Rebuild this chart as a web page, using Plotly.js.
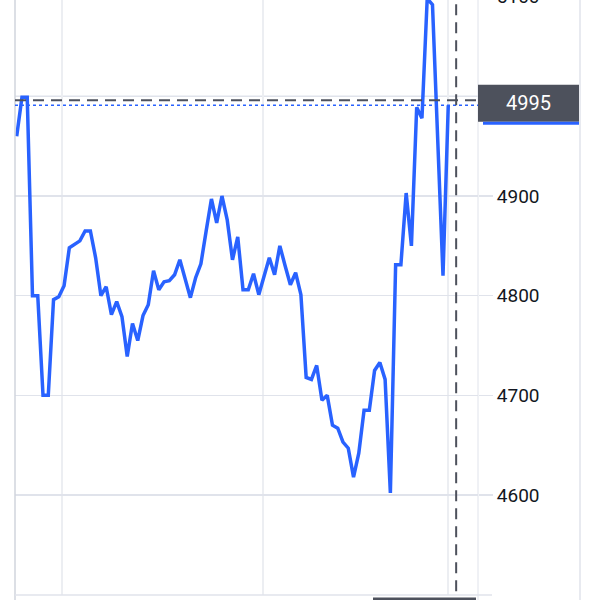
<!DOCTYPE html>
<html>
<head>
<meta charset="utf-8">
<script src="https://cdn.plot.ly/plotly-3.0.1.min.js"></script>
<style>
  html, body { margin: 0; padding: 0; background: #ffffff; overflow: hidden; }
  #wrap { position: absolute; left: 0; top: -50px; width: 600px; height: 700px; }
</style>
</head>
<body>
<div id="wrap"></div>
<script>
// ---- data ----
const barIndex = [0,1,2,3,4,5,6,7,8,9,10,11,12,13,14,15,16,17,18,19,20,
  21,22,23,24,25,26,27,28,29,30,31,32,33,34,35,36,37,38,39,40,
  41,42,43,44,45,46,47,48,49,50,51,52,53,54,55,56,57,58,59,60,
  61,62,63,64,65,66,67,68,69,70,71,72,73,74,75,76,77,78,79,80,81,82];
const price = [4960,4999,4999,4800,4800,4700,4700,4796,4799,4810,4848,
  4851,4855,4865,4865,4838,4800,4809,4781,4794,4779,
  4739,4772,4755,4780,4791,4825,4806,4814,4815,4821,
  4836,4816,4798,4818,4832,4865,4897,4873,4900,4876,
  4836,4859,4806,4806,4822,4801,4820,4838,4821,4850,
  4830,4811,4823,4801,4718,4716,4730,4695,4700,4670,
  4667,4653,4647,4618,4642,4685,4685,4725,4733,4716,
  4602,4831,4831,4903,4850,4989,4978,5098,5092,4960,4820,4991];
const yTickVals = [4600, 4700, 4800, 4900, 5100];   // 5000 label is hidden behind the price box
const hiddenTickVal = 5000;
const timeGridIdx = [8.6, 46.8, 81.95];   // vertical time grid lines
const crosshairIdx = 83.5;                // vertical crosshair position
const crosshairPrice = 4996;              // horizontal crosshair
const lastPriceLine = 4991;               // dotted last-price line
const priceLabelValue = 4993;             // where the label box sits
const priceLabelText = "4995";

// ---- layout helpers ----
const xRange = [-0.323, 87.65];
const yRange = [4499.7, 5146.8];
const plotW = 463, plotH = 645;
const k = plotH / (yRange[1] - yRange[0]);      // px per price unit
const xPaper = v => (v - xRange[0]) / (xRange[1] - xRange[0]);
const pxToPaperX = px => (px - 15) / plotW;
const grid = '#e0e3eb';
const dark = '#4d515c';

const trace = {
  x: barIndex, y: price, type: 'scatter', mode: 'lines',
  line: { color: '#2962ff', width: 3.5, shape: 'linear' },
  hoverinfo: 'skip'
};

const halfBox = 18.5 / k;
const shapes = [
  // left border
  { type: 'line', xref: 'paper', yref: 'paper', x0: 0, x1: 0, y0: -0.01, y1: 1, line: { color: '#d1d4dc', width: 1.5 } },
  // plot right edge
  { type: 'line', xref: 'paper', yref: 'paper', x0: 1, x1: 1, y0: -0.01, y1: 1, line: { color: grid, width: 1 } },
  // far right border of price scale
  { type: 'line', xref: 'paper', yref: 'paper', x0: pxToPaperX(580), x1: pxToPaperX(580), y0: -0.05, y1: 1, line: { color: grid, width: 1.5 } },
  // bottom border
  { type: 'line', xref: 'paper', yref: 'paper', x0: 0, x1: pxToPaperX(492), y0: 0, y1: 0, line: { color: grid, width: 1.5 } },
  // grid line of the hidden 5000 tick
  { type: 'line', xref: 'paper', yref: 'y', x0: 0, x1: pxToPaperX(492), y0: hiddenTickVal, y1: hiddenTickVal, layer: 'below', line: { color: grid, width: 1.5 } },
  // dotted last price line
  { type: 'line', xref: 'paper', yref: 'y', x0: 0, x1: 1, y0: lastPriceLine, y1: lastPriceLine, layer: 'above', line: { color: '#2962ff', width: 1.5, dash: 'dot' } },
  // horizontal crosshair
  { type: 'line', xref: 'paper', yref: 'y', x0: 0, x1: 1, y0: crosshairPrice, y1: crosshairPrice, layer: 'above', line: { color: dark, width: 2, dash: '11px,7px' } },
  // vertical crosshair
  { type: 'line', xref: 'paper', yref: 'paper', x0: xPaper(crosshairIdx), x1: xPaper(crosshairIdx), y0: -0.05, y1: 1, layer: 'above', line: { color: dark, width: 2, dash: '11px,7px' } },
  // price label box
  { type: 'rect', xref: 'paper', yref: 'y', x0: 1.0, x1: pxToPaperX(579), y0: priceLabelValue - halfBox, y1: priceLabelValue + halfBox, layer: 'above', fillcolor: dark, line: { width: 0 } },
  // blue underline of price label
  { type: 'rect', xref: 'paper', yref: 'y', x0: pxToPaperX(483), x1: pxToPaperX(579), y0: priceLabelValue - halfBox - 3 / k, y1: priceLabelValue - halfBox, layer: 'above', fillcolor: '#2962ff', line: { width: 0 } },
  // bottom time label box (cut off)
  { type: 'rect', xref: 'paper', yref: 'paper', x0: pxToPaperX(373), x1: pxToPaperX(476), y0: -2.5 / plotH, y1: -0.05, layer: 'above', fillcolor: dark, line: { width: 0 } }
];

const layout = {
  width: 600, height: 700,
  margin: { l: 15, r: 122, t: 0, b: 55 },
  paper_bgcolor: '#ffffff', plot_bgcolor: '#ffffff',
  showlegend: false,
  xaxis: {
    range: xRange, tickvals: timeGridIdx, showticklabels: false, ticks: '',
    showgrid: true, gridcolor: '#eceef2', gridwidth: 1.5, zeroline: false, showline: false, fixedrange: true
  },
  yaxis: {
    side: 'right', range: yRange, tickvals: yTickVals, ticks: 'outside', ticklen: 14,
    tickcolor: grid, tickwidth: 1.5, showgrid: true, gridcolor: grid, gridwidth: 1.5,
    zeroline: false, showline: false, fixedrange: true,
    tickfont: { family: 'Roboto, sans-serif', size: 19, color: '#131722' }
  },
  shapes: shapes,
  annotations: [{
    xref: 'paper', yref: 'y', x: pxToPaperX(528.5), y: priceLabelValue,
    text: priceLabelText, showarrow: false,
    font: { family: 'Roboto, sans-serif', size: 20, color: '#ffffff' },
    xanchor: 'center', yanchor: 'middle'
  }]
};

Plotly.newPlot('wrap', [trace], layout, { displayModeBar: false, staticPlot: true });
</script>
</body>
</html>
